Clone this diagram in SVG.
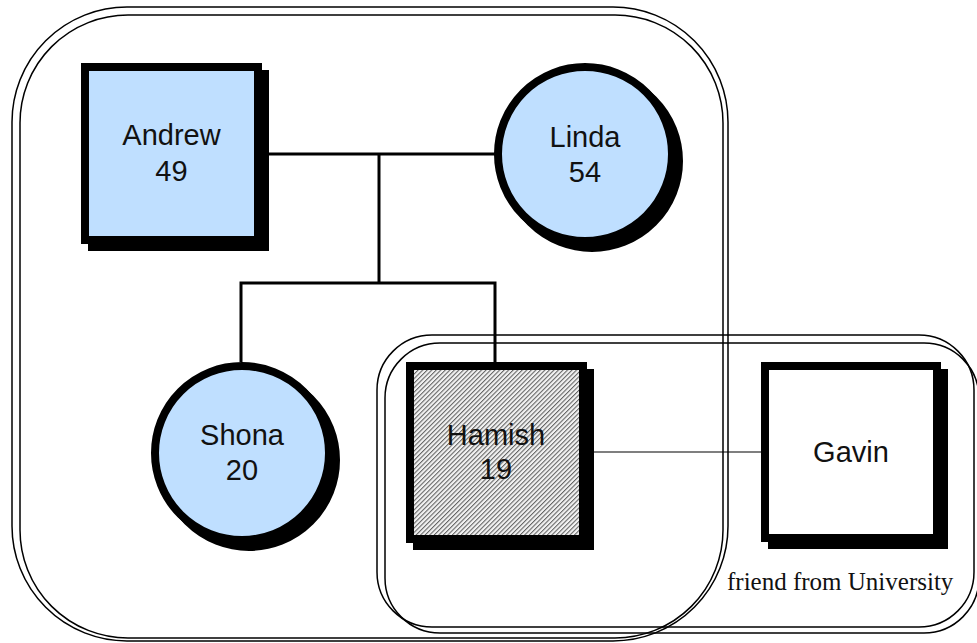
<svg xmlns="http://www.w3.org/2000/svg" width="977" height="643" viewBox="0 0 977 643">
  <style>
    .grp { fill: none; stroke: #000; stroke-width: 1.5; }
    .frame { stroke: #000; stroke-width: 8; }
    .shadow { fill: #000; stroke: #000; stroke-width: 8; }
    .female, .male { fill: #bfdfff; }
    .plain { fill: #fff; }
    .hatched { fill: url(#hatch); }
    .lbl { font-family: "Liberation Sans", Arial, sans-serif; font-size: 29px; fill: #111; text-anchor: middle; }
    .note { font-family: "Liberation Serif", "Times New Roman", serif; font-size: 25px; fill: #111; }
    .kin { stroke: #000; stroke-width: 3; fill: none; }
    .tie { stroke: #000; stroke-width: 1.2; fill: none; }
  </style>
  <defs>
    <pattern id="hatch" patternUnits="userSpaceOnUse" width="3.2" height="3.2" patternTransform="rotate(45)">
      <rect width="3.2" height="3.2" fill="#f2f2f2"/>
      <line x1="0.6" y1="0" x2="0.6" y2="3.2" stroke="#333" stroke-width="0.8"/>
    </pattern>
  </defs>

  <rect width="977" height="643" fill="#fff"/>

  <!-- household boundary -->
  <g id="household">
    <rect class="grp" x="12" y="7" width="716" height="634" rx="115" ry="115"/>
    <rect class="grp" x="20" y="15" width="703" height="623" rx="108" ry="108"/>
  </g>

  <!-- university circle boundary -->
  <g id="university">
    <rect class="grp" x="377" y="335" width="597" height="292" rx="55" ry="55"/>
    <rect class="grp" x="385" y="343" width="594" height="290" rx="55" ry="55"/>
    <text class="note" x="727" y="590">friend from University</text>
  </g>

  <!-- relationship lines -->
  <g id="connectors">
    <line class="kin" x1="262" y1="154" x2="495" y2="154"/>
    <line class="kin" x1="379" y1="154" x2="379" y2="283"/>
    <polyline class="kin" points="241,362 241,283 495,283 495,362"/>
    <line class="tie" x1="587" y1="452" x2="766" y2="452"/>
  </g>

  <g id="andrew">
    <rect class="shadow" x="92" y="74" width="173" height="173"/>
    <rect class="frame male" x="85" y="67" width="173" height="173"/>
    <text class="lbl" x="171.5" y="145">Andrew</text>
    <text class="lbl" x="171.5" y="181">49</text>
  </g>

  <g id="linda">
    <circle class="shadow" cx="592" cy="161" r="87"/>
    <circle class="frame female" cx="585" cy="154" r="87"/>
    <text class="lbl" x="585" y="147">Linda</text>
    <text class="lbl" x="585" y="182">54</text>
  </g>

  <g id="shona">
    <circle class="shadow" cx="249" cy="460" r="87"/>
    <circle class="frame female" cx="242" cy="453" r="87"/>
    <text class="lbl" x="242" y="445">Shona</text>
    <text class="lbl" x="242" y="480">20</text>
  </g>

  <g id="hamish">
    <rect class="shadow" x="417" y="373" width="173" height="173"/>
    <rect class="frame hatched" x="410" y="366" width="173" height="173"/>
    <text class="lbl" x="496" y="445">Hamish</text>
    <text class="lbl" x="496" y="479">19</text>
  </g>

  <g id="gavin">
    <rect class="shadow" x="772" y="373" width="172" height="172"/>
    <rect class="frame plain" x="765" y="366" width="172" height="172"/>
    <text class="lbl" x="851" y="462">Gavin</text>
  </g>
</svg>
